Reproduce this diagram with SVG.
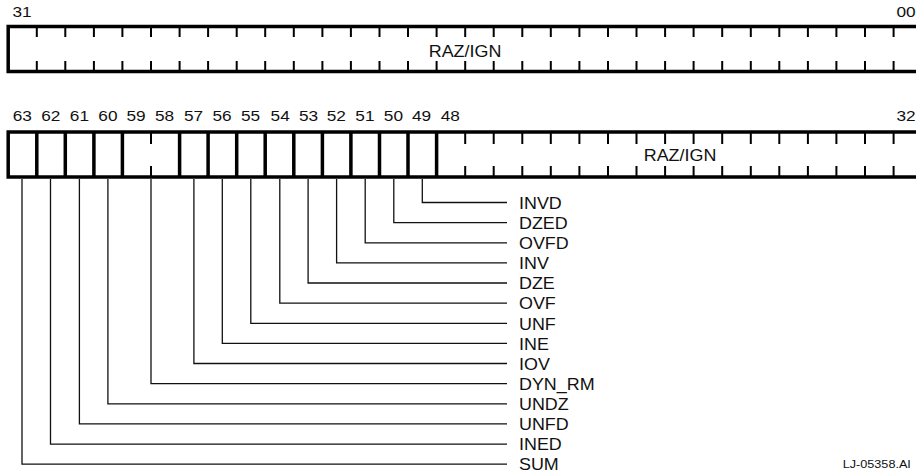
<svg xmlns="http://www.w3.org/2000/svg" width="916" height="475" viewBox="0 0 916 475">
<style>
.box{fill:none;stroke:#000;stroke-width:3.5}
.div{stroke:#000;stroke-width:3.5}
.tick{stroke:#000;stroke-width:2}
.lead{fill:none;stroke:#111;stroke-width:1.3}
.num{font-family:"Liberation Sans",Arial,sans-serif;font-size:15px;fill:#111;text-anchor:middle}
.raz{font-family:"Liberation Sans",Arial,sans-serif;font-size:16px;fill:#111;text-anchor:middle}
.lbl{font-family:"Liberation Sans",Arial,sans-serif;font-size:16px;fill:#111}
.id{font-family:"Liberation Sans",Arial,sans-serif;font-size:11px;fill:#111}
</style>
<rect width="916" height="475" fill="#fff"/>

<g id="reg-low">
<rect class="box" x="8.2" y="26.5" width="913.9" height="45"/>
<path class="tick" d="M36.8 26.5V37M65.3 26.5V37M93.9 26.5V37M122.4 26.5V37M151 26.5V37M179.6 26.5V37M208.1 26.5V37M236.7 26.5V37M265.2 26.5V37M293.8 26.5V37M322.4 26.5V37M350.9 26.5V37M379.5 26.5V37M408 26.5V37M436.6 26.5V37M465.2 26.5V37M493.7 26.5V37M522.3 26.5V37M550.8 26.5V37M579.4 26.5V37M608 26.5V37M636.5 26.5V37M665.1 26.5V37M693.6 26.5V37M722.2 26.5V37M750.8 26.5V37M779.3 26.5V37M807.9 26.5V37M836.4 26.5V37M865 26.5V37M893.6 26.5V37"/>
<path class="tick" d="M36.8 61V71.5M65.3 61V71.5M93.9 61V71.5M122.4 61V71.5M151 61V71.5M179.6 61V71.5M208.1 61V71.5M236.7 61V71.5M265.2 61V71.5M293.8 61V71.5M322.4 61V71.5M350.9 61V71.5M379.5 61V71.5M408 61V71.5M436.6 61V71.5M465.2 61V71.5M493.7 61V71.5M522.3 61V71.5M550.8 61V71.5M579.4 61V71.5M608 61V71.5M636.5 61V71.5M665.1 61V71.5M693.6 61V71.5M722.2 61V71.5M750.8 61V71.5M779.3 61V71.5M807.9 61V71.5M836.4 61V71.5M865 61V71.5M893.6 61V71.5"/>
<text class="num" transform="translate(22 17.3) scale(1.15 1)">31</text>
<text class="num" transform="translate(906 17.3) scale(1.15 1)">00</text>
<text class="raz" transform="translate(465 57) scale(1.12 1)">RAZ/IGN</text>
</g>

<g id="reg-high">
<rect class="box" x="8.2" y="132" width="913.9" height="45"/>
<path class="div" d="M36.8 132V177M65.3 132V177M93.9 132V177M122.4 132V177M179.6 132V177M208.1 132V177M236.7 132V177M265.2 132V177M293.8 132V177M322.4 132V177M350.9 132V177M379.5 132V177M408 132V177M436.6 132V177"/>
<path class="tick" d="M151 132V144M151 166V177"/>
<path class="tick" d="M465.2 132V144M493.7 132V144M522.3 132V144M550.8 132V144M579.4 132V144M608 132V144M636.5 132V144M665.1 132V144M693.6 132V144M722.2 132V144M750.8 132V144M779.3 132V144M807.9 132V144M836.4 132V144M865 132V144M893.6 132V144"/>
<path class="tick" d="M465.2 166V177M493.7 166V177M522.3 166V177M550.8 166V177M579.4 166V177M608 166V177M636.5 166V177M665.1 166V177M693.6 166V177M722.2 166V177M750.8 166V177M779.3 166V177M807.9 166V177M836.4 166V177M865 166V177M893.6 166V177"/>
<g class="num">
<text transform="translate(22.3 120.7) scale(1.15 1)">63</text>
<text transform="translate(50.8 120.7) scale(1.15 1)">62</text>
<text transform="translate(79.4 120.7) scale(1.15 1)">61</text>
<text transform="translate(107.9 120.7) scale(1.15 1)">60</text>
<text transform="translate(136 120.7) scale(1.15 1)">59</text>
<text transform="translate(164.5 120.7) scale(1.15 1)">58</text>
<text transform="translate(193.5 120.7) scale(1.15 1)">57</text>
<text transform="translate(222.1 120.7) scale(1.15 1)">56</text>
<text transform="translate(250.6 120.7) scale(1.15 1)">55</text>
<text transform="translate(280.2 120.7) scale(1.15 1)">54</text>
<text transform="translate(308.5 120.7) scale(1.15 1)">53</text>
<text transform="translate(336.3 120.7) scale(1.15 1)">52</text>
<text transform="translate(364.9 120.7) scale(1.15 1)">51</text>
<text transform="translate(393.4 120.7) scale(1.15 1)">50</text>
<text transform="translate(421.6 120.7) scale(1.15 1)">49</text>
<text transform="translate(450.3 120.7) scale(1.15 1)">48</text>
<text transform="translate(906 120.7) scale(1.15 1)">32</text>
</g>
<text class="raz" transform="translate(680 160.7) scale(1.12 1)">RAZ/IGN</text>
</g>

<g id="connectors">
<path class="lead" d="M422.3 179V202.5H507"/>
<path class="lead" d="M393.8 179V222.6H507"/>
<path class="lead" d="M365.2 179V242.8H507"/>
<path class="lead" d="M336.6 179V262.9H507"/>
<path class="lead" d="M308.1 179V283H507"/>
<path class="lead" d="M279.8 179V303.2H507"/>
<path class="lead" d="M250.8 179V323.3H507"/>
<path class="lead" d="M222.3 179V343.4H507"/>
<path class="lead" d="M193.9 179V363.5H507"/>
<path class="lead" d="M151 179V383.7H507"/>
<path class="lead" d="M107.9 179V403.8H507"/>
<path class="lead" d="M79.4 179V423.9H507"/>
<path class="lead" d="M50.5 179V444.1H507"/>
<path class="lead" d="M22 179V464.2H507"/>
</g>

<g id="labels" class="lbl">
<text transform="translate(519 208.7) scale(1.12 1)">INVD</text>
<text transform="translate(519 228.8) scale(1.12 1)">DZED</text>
<text transform="translate(519 249) scale(1.12 1)">OVFD</text>
<text transform="translate(519 269.1) scale(1.12 1)">INV</text>
<text transform="translate(519 289.2) scale(1.12 1)">DZE</text>
<text transform="translate(519 309.4) scale(1.12 1)">OVF</text>
<text transform="translate(519 329.5) scale(1.12 1)">UNF</text>
<text transform="translate(519 349.6) scale(1.12 1)">INE</text>
<text transform="translate(519 369.7) scale(1.12 1)">IOV</text>
<text transform="translate(519 389.9) scale(1.12 1)">DYN_RM</text>
<text transform="translate(519 410) scale(1.12 1)">UNDZ</text>
<text transform="translate(519 430.1) scale(1.12 1)">UNFD</text>
<text transform="translate(519 450.3) scale(1.12 1)">INED</text>
<text transform="translate(519 470.4) scale(1.12 1)">SUM</text>
</g>

<text class="id" transform="translate(842.7 468.3) scale(1.15 1)">LJ-05358.AI</text>
</svg>
